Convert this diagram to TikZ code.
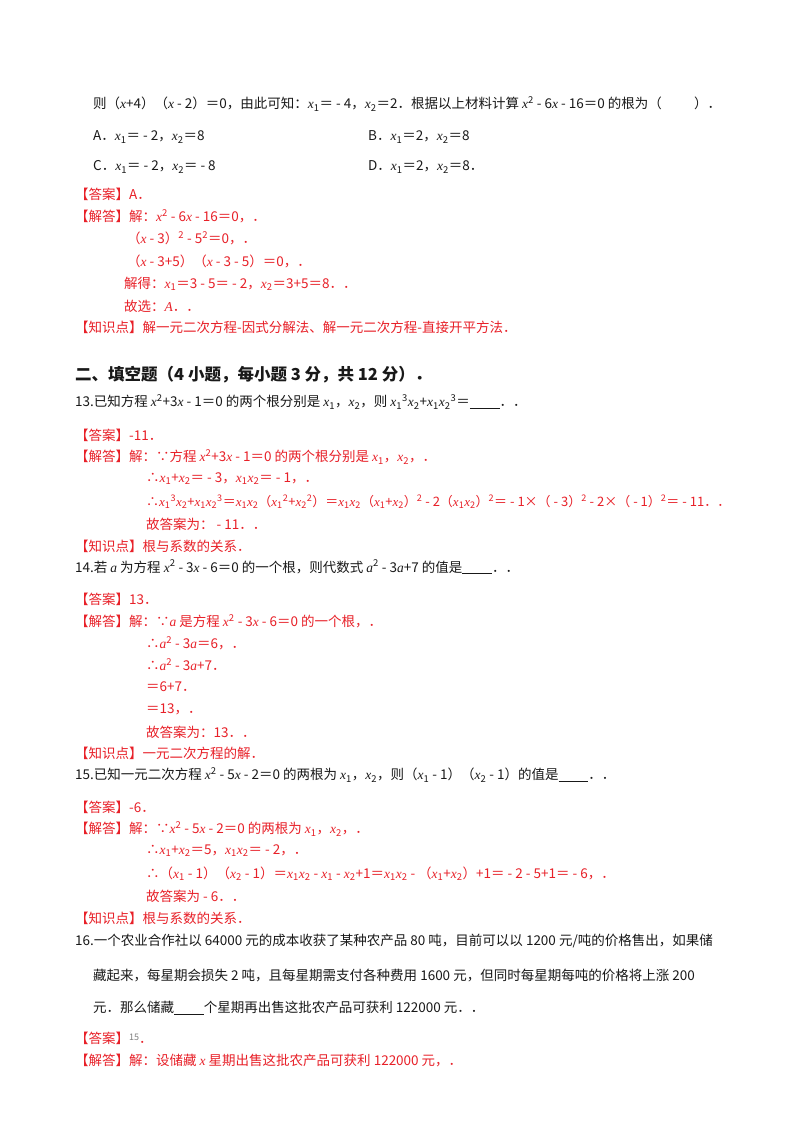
\documentclass[tikz,border=0pt]{standalone}
\usepackage{fontspec}
\setmainfont{Noto Sans CJK SC}
\newfontfamily\lat{Liberation Serif}
\newcommand\vx{{\lat\itshape x}}
\newcommand\va{{\lat\itshape a}}
\newcommand\xA{\vx\textsubscript{1}}
\newcommand\xB{\vx\textsubscript{2}}
\newcommand\spow[1]{\textsuperscript{#1}}
\newcommand\blank{\underline{\hspace{2.2em}}}
\definecolor{ansred}{RGB}{232,32,40}
\begin{document}
\begin{tikzpicture}[x=1pt,y=-1pt,
  every node/.style={inner sep=0pt,anchor=west,font=\fontsize{13.5}{13.5}\selectfont},
  red/.style={text=ansred},
  blk/.style={text=black!90}]
\useasboundingbox[fill=white] (0,0) rectangle (800,1132);
\node[blk] (l1) at (93,104) {则（\vx+4）（\vx{} - 2）＝0，由此可知：\xA＝ - 4，\xB＝2．根据以上材料计算 \vx\spow{2} - 6\vx{} - 16＝0 的根为（\hspace{2.4em}）．};
\node[blk] (oa) at (93,137) {A．\xA＝ - 2，\xB＝8};
\node[blk] (ob) at (368,137) {B．\xA＝2，\xB＝8};
\node[blk] (oc) at (93,167) {C．\xA＝ - 2，\xB＝ - 8};
\node[blk] (od) at (368,167) {D．\xA＝2，\xB＝8．};
\node[red] (a1) at (75,194) {【答案】A．};
\node[red] (s1) at (75,216) {【解答】解：\vx\spow{2} - 6\vx{} - 16＝0，．};
\node[red] (s2) at (127,238) {（\vx{} - 3）\spow{2} - 5\spow{2}＝0，．};
\node[red] (s3) at (127,261) {（\vx{} - 3+5）（\vx{} - 3 - 5）＝0，．};
\node[red] (s4) at (124,284) {解得：\xA＝3 - 5＝ - 2，\xB＝3+5＝8．．};
\node[red] (s5) at (124,306) {故选：{\lat\itshape A}．．};
\node[red] (k1) at (75,327) {【知识点】解一元二次方程-因式分解法、解一元二次方程-直接开平方法．};
\node[blk] (h2) at (75,375) {\fontsize{16.5}{16.5}\selectfont\bfseries 二、填空题（4 小题，每小题 3 分，共 12 分）．};
\node[blk] (q13) at (75,402) {13.已知方程 \vx\spow{2}+3\vx{} - 1＝0 的两个根分别是 \xA，\xB，则 \xA\spow{3}\xB+\xA\xB\spow{3}＝\blank．．};
\node[red] (a13) at (75,435) {【答案】-11．};
\node[red] (s13a) at (75,457) {【解答】解：∵方程 \vx\spow{2}+3\vx{} - 1＝0 的两个根分别是 \xA，\xB，．};
\node[red] (s13b) at (146,479) {∴\xA+\xB＝ - 3，\xA\xB＝ - 1，．};
\node[red] (s13c) at (146,502) {\fontsize{13}{13}\selectfont ∴\xA\spow{3}\xB+\xA\xB\spow{3}＝\xA\xB（\xA\spow{2}+\xB\spow{2}）＝\xA\xB（\xA+\xB）\spow{2} - 2（\xA\xB）\spow{2}＝ - 1×（ - 3）\spow{2} - 2×（ - 1）\spow{2}＝ - 11．．};
\node[red] (s13d) at (146,524) {故答案为： - 11．．};
\node[red] (k13) at (75,546) {【知识点】根与系数的关系．};
\node[blk] (q14) at (75,567) {14.若 \va{} 为方程 \vx\spow{2} - 3\vx{} - 6＝0 的一个根，则代数式 \va\spow{2} - 3\va+7 的值是\blank．．};
\node[red] (a14) at (75,599) {【答案】13．};
\node[red] (s14a) at (75,621) {【解答】解：∵\va{} 是方程 \vx\spow{2} - 3\vx{} - 6＝0 的一个根，．};
\node[red] (s14b) at (146,643) {∴\va\spow{2} - 3\va＝6，．};
\node[red] (s14c) at (146,665) {∴\va\spow{2} - 3\va+7．};
\node[red] (s14d) at (146,687) {＝6+7．};
\node[red] (s14e) at (146,709) {＝13，．};
\node[red] (s14f) at (146,732) {故答案为：13．．};
\node[red] (k14) at (75,753) {【知识点】一元二次方程的解．};
\node[blk] (q15) at (75,775) {15.已知一元二次方程 \vx\spow{2} - 5\vx{} - 2＝0 的两根为 \xA，\xB，则（\xA{} - 1）（\xB{} - 1）的值是\blank．．};
\node[red] (a15) at (75,807) {【答案】-6．};
\node[red] (s15a) at (75,829) {【解答】解：∵\vx\spow{2} - 5\vx{} - 2＝0 的两根为 \xA，\xB，．};
\node[red] (s15b) at (146,851) {∴\xA+\xB＝5，\xA\xB＝ - 2，．};
\node[red] (s15c) at (146,874) {∴（\xA{} - 1）（\xB{} - 1）＝\xA\xB{} - \xA{} - \xB+1＝\xA\xB{} - （\xA+\xB）+1＝ - 2 - 5+1＝ - 6，．};
\node[red] (s15d) at (146,896) {故答案为 - 6．．};
\node[red] (k15) at (75,918) {【知识点】根与系数的关系．};
\node[blk] (q16a) at (75,941) {16.一个农业合作社以 64000 元的成本收获了某种农产品 80 吨，目前可以以 1200 元/吨的价格售出，如果储};
\node[blk] (q16b) at (93,975) {藏起来，每星期会损失 2 吨，且每星期需支付各种费用 1600 元，但同时每星期每吨的价格将上涨 200};
\node[blk] (q16c) at (93,1008) {元．那么储藏\blank 个星期再出售这批农产品可获利 122000 元．．};
\node[red] (a16) at (75,1038) {【答案】{\color{gray}\fontsize{9}{9}\selectfont\raisebox{3pt}{15}}．};
\node[red] (s16) at (75,1060) {【解答】解：设储藏 \vx{} 星期出售这批农产品可获利 122000 元，．};
\end{tikzpicture}
\end{document}
